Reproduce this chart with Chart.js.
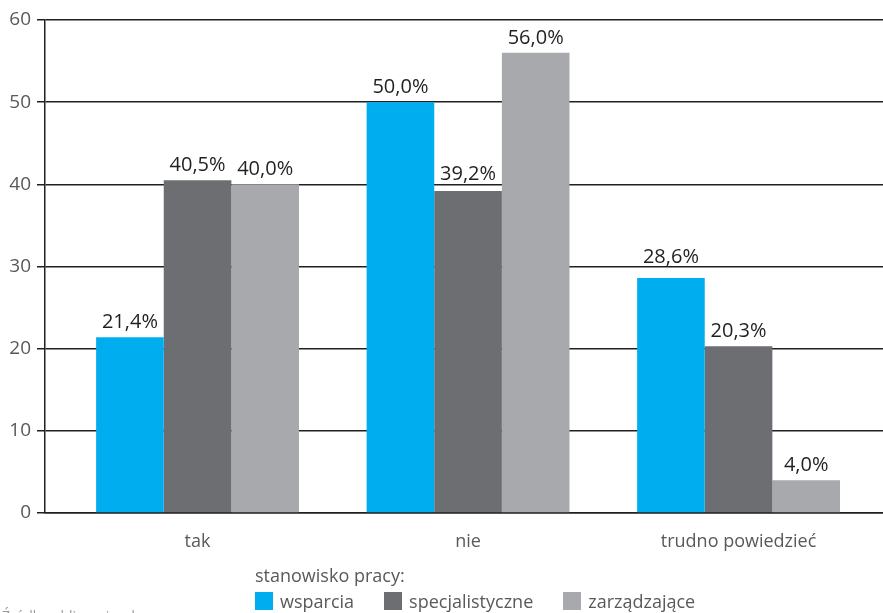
<!DOCTYPE html>
<html>
<head>
<meta charset="utf-8">
<script src="https://cdn.jsdelivr.net/npm/chart.js@4.4.1/dist/chart.umd.min.js"></script>
<style>
    body { margin: 0; background: #fff; }
    .wrap { position: relative; width: 883px; height: 613px; overflow: hidden; }
    .legend { position: absolute; left: 255px; top: 563px; font-family: 'Open Sans', sans-serif; font-size: 18px; color: #58595b; }
    .legend .row { display: flex; margin-top: 2px; }
    .legend .item { display: flex; align-items: center; margin-right: 30px; }
    .legend .item:last-child { margin-right: 0; }
    .legend .box { width: 18px; height: 18px; margin-right: 7px; }
    .source { position: absolute; left: 2px; top: 606px; font-family: 'Open Sans', sans-serif; font-size: 14px; color: #9a9a9a; }
</style>
</head>
<body>
<div class="wrap">
    <canvas id="chart" width="883" height="613"></canvas>
    <div class="legend" id="legend"></div>
    <div class="source">Źródło: obliczenia własne</div>
</div>
<script>
const categories = ['tak', 'nie', 'trudno powiedzieć'];
const seriesNames = ['wsparcia', 'specjalistyczne', 'zarządzające'];
const seriesColors = ['#00aeef', '#6d6e71', '#a7a9ac'];
const wsparcia = [21.4, 50.0, 28.6];
const specjalistyczne = [40.5, 39.2, 20.3];
const zarzadzajace = [40.0, 56.0, 4.0];
const legendTitle = 'stanowisko pracy:';

const seriesValues = [wsparcia, specjalistyczne, zarzadzajace];
const fontFamily = "'Open Sans', sans-serif";
const lineColor = '#231f20';

function formatPct(v) {
    return v.toFixed(1).replace('.', ',') + '%';
}

// values above each bar, lifted over a gridline if they would sit on it
const barLabels = {
    id: 'barLabels',
    afterDatasetsDraw(chart) {
        const ctx = chart.ctx;
        const yScale = chart.scales.y;
        const gridYs = yScale.ticks.map(t => yScale.getPixelForValue(t.value));
        ctx.save();
        ctx.font = '20px ' + fontFamily;
        ctx.fillStyle = lineColor;
        ctx.textAlign = 'center';
        ctx.textBaseline = 'alphabetic';
        chart.data.datasets.forEach((ds, i) => {
            chart.getDatasetMeta(i).data.forEach((bar, j) => {
                let base = bar.y - 9;
                gridYs.forEach(g => {
                    if (g > base - 15 && g < base + 4) base = g - 4;
                });
                ctx.fillText(formatPct(seriesValues[i][j]), bar.x, base);
            });
        });
        ctx.restore();
    }
};

new Chart(document.getElementById('chart'), {
    type: 'bar',
    data: {
        datasets: seriesNames.map((name, i) => ({
            label: name,
            data: categories.map((c, j) => ({ x: j, y: seriesValues[i][j] })),
            backgroundColor: seriesColors[i],
            borderWidth: 0
        }))
    },
    options: {
        responsive: false,
        animation: false,
        categoryPercentage: 0.75,
        barPercentage: 1,
        layout: { padding: { top: 20, left: 0, right: 0, bottom: 0 } },
        plugins: {
            legend: { display: false },
            tooltip: { enabled: false }
        },
        scales: {
            x: {
                type: 'linear',
                min: -0.564,
                max: 2.534,
                offset: false,
                grid: { display: false },
                border: { display: true, color: lineColor, width: 1.5 },
                afterBuildTicks: scale => {
                    scale.ticks = categories.map((c, i) => ({ value: i }));
                },
                afterFit: scale => { scale.height = 100; },
                ticks: {
                    callback: v => categories[v],
                    padding: 10,
                    color: '#58595b',
                    font: { family: fontFamily, size: 18 },
                    maxRotation: 0,
                    autoSkip: false
                }
            },
            y: {
                min: 0,
                max: 60,
                grid: { color: lineColor, lineWidth: 1.5, tickLength: 8 },
                border: { display: true, color: lineColor, width: 1.5 },
                afterFit: scale => { scale.width = 45; },
                ticks: {
                    stepSize: 10,
                    padding: 6,
                    color: '#58595b',
                    font: { family: fontFamily, size: 19 }
                }
            }
        }
    },
    plugins: [barLabels]
});

const legend = document.getElementById('legend');
let html = '<div>' + legendTitle + '</div><div class="row">';
seriesNames.forEach((name, i) => {
    html += '<div class="item"><span class="box" style="background:' + seriesColors[i] + '"></span>' + name + '</div>';
});
legend.innerHTML = html + '</div>';
</script>
</body>
</html>
